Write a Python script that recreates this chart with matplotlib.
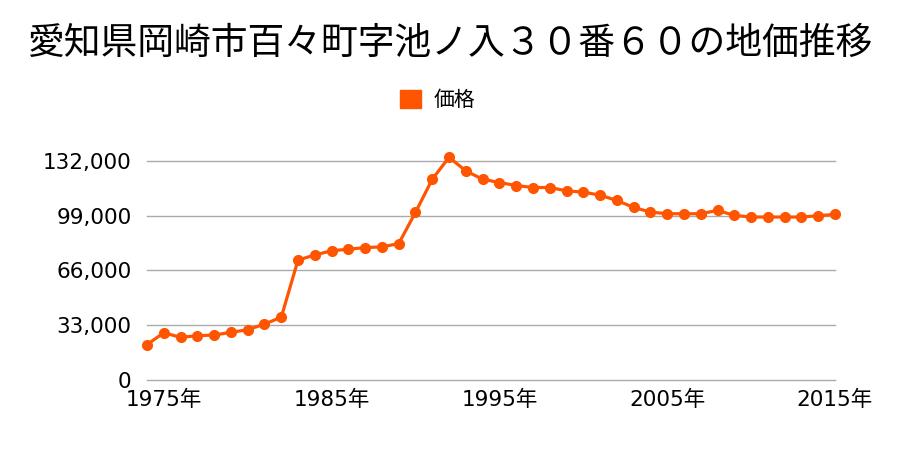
import matplotlib
matplotlib.use("Agg")
import matplotlib.pyplot as plt
from matplotlib.patches import Patch

plt.rcParams['font.family'] = ['Noto Sans CJK JP', 'DejaVu Sans']

title = "愛知県岡崎市百々町字池ノ入３０番６０の地価推移"
series_name = "価格"
years = list(range(1974, 2016))
prices = [21300, 28500, 25700, 26700, 27100, 28700, 30300, 33700, 37800,
          72300, 75300, 77900, 78800, 79800, 80200, 82200,
          101000, 121000, 134200, 126000, 121000, 119000, 117200, 116000,
          116000, 114000, 113200, 111400, 108200, 104000, 101200, 100200,
          100200, 100200, 102200, 99200, 98200, 98200, 98200, 98200,
          99000, 99800]
yticks = [0, 33000, 66000, 99000, 132000]
ytick_labels = ["0", "33,000", "66,000", "99,000", "132,000"]
xticks = [1975, 1985, 1995, 2005, 2015]
xtick_labels = ["1975年", "1985年", "1995年", "2005年", "2015年"]

color = '#ff5500'
tick_family = ['DejaVu Sans', 'Noto Sans CJK JP']

fig = plt.figure(figsize=(9, 4.5), dpi=100)
ax = fig.add_axes([147/900, 70/450, 688/900, 229/450])

ax.plot(years, prices, color=color, lw=2.3, marker='o', markersize=7,
        clip_on=False, zorder=3)

ax.set_xlim(1974, 2015)
ax.set_ylim(0, 138000)
ax.set_yticks(yticks)
ax.set_yticklabels(ytick_labels, fontsize=15.5, family=tick_family)
ax.set_xticks(xticks)
ax.set_xticklabels(xtick_labels, fontsize=15.5, family=tick_family)
ax.tick_params(axis='y', length=0, pad=11)
ax.tick_params(axis='x', length=0, pad=7)
ax.grid(axis='y', color='#aaaaaa', lw=1)
for gl in ax.get_ygridlines():
    gl.set_clip_on(False)
ax.set_axisbelow(True)
for s in ax.spines.values():
    s.set_visible(False)

fig.text(0.5, 1 - 43/450, title, ha='center', va='center', fontsize=26.5)

fig.legend(handles=[Patch(color=color, label=series_name)],
           loc='center', bbox_to_anchor=(438/900, 1 - 100/450),
           frameon=False, fontsize=15, handlelength=1.0, handleheight=1.0,
           handletextpad=0.6)

fig.savefig("out.png", dpi=100)
